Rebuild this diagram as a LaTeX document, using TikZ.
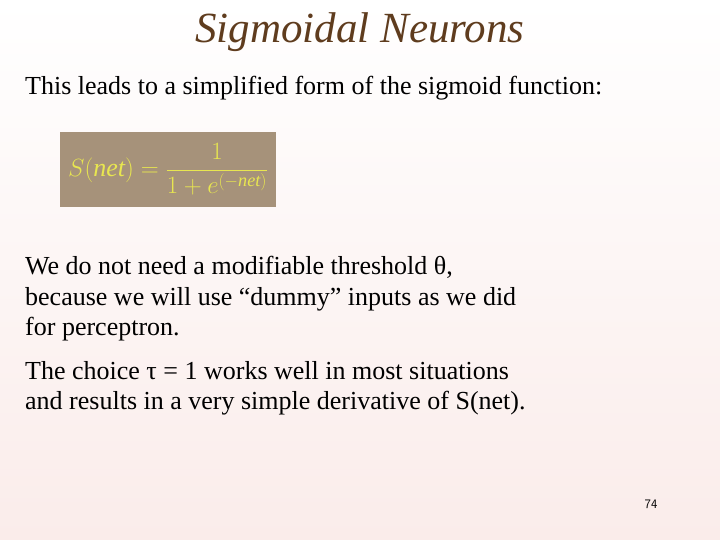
\documentclass[tikz,border=0pt]{standalone}
\usepackage{fontspec}
\setmainfont{Liberation Serif}
\definecolor{titlec}{RGB}{95,60,30}
\definecolor{boxc}{RGB}{166,146,122}
\definecolor{formc}{RGB}{232,230,80}
\definecolor{bgtop}{RGB}{255,255,255}
\definecolor{bgbot}{RGB}{250,236,234}
\begin{document}
\begin{tikzpicture}[x=1pt,y=-1pt,
  body/.style={anchor=north west,align=left,inner sep=0pt,font=\fontsize{26}{30.5}\selectfont}]
\shade[top color=bgtop,bottom color=bgbot] (0,0) rectangle (720,540);
\useasboundingbox (0,0) rectangle (720,540);
\node[font=\fontsize{43}{48}\selectfont\itshape,text=titlec] (title) at (360,32) {Sigmoidal Neurons};
\node[body] (t1) at (25,76) {This leads to a simplified form of the sigmoid function:};
\node[fill=boxc,minimum width=216,minimum height=75,anchor=north west,inner sep=0pt] (box) at (60,132) {};
\node[text=formc,font=\fontsize{26}{30}\selectfont,inner sep=0pt] (f) at (box.center)
 {$\displaystyle S(\mathit{net})=\frac{1}{1+e^{(-\mathit{net})}}$};
\node[body] (t2) at (25,256) {We do not need a modifiable threshold θ,\\because we will use “dummy” inputs as we did\\for perceptron.};
\node[body] (t3) at (25,361) {The choice τ = 1 works well in most situations\\and results in a very simple derivative of S(net).};
\node[font=\sffamily\fontsize{13}{15}\selectfont] (pg) at (651,504) {74};
\end{tikzpicture}
\end{document}
